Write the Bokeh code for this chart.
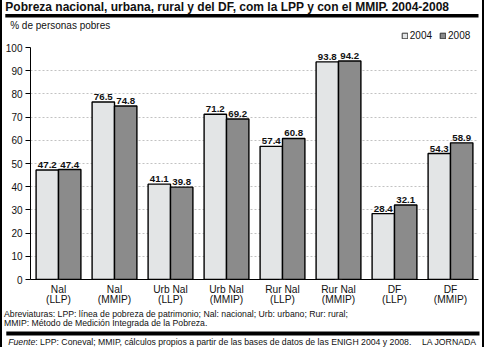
from bokeh.plotting import figure
from bokeh.layouts import column
from bokeh.models import (ColumnDataSource, Range1d, FactorRange, Legend, LegendItem, FixedTicker)
from bokeh.transform import dodge
from bokeh.core.properties import value
from bokeh.embed import file_html
from bokeh.resources import INLINE

# ---- data ----
categories = ["Nal (LLP)", "Nal (MMIP)", "Urb Nal (LLP)", "Urb Nal (MMIP)",
              "Rur Nal (LLP)", "Rur Nal (MMIP)", "DF (LLP)", "DF (MMIP)"]
label_line1 = ["Nal", "Nal", "Urb Nal", "Urb Nal", "Rur Nal", "Rur Nal", "DF", "DF"]
label_line2 = ["(LLP)", "(MMIP)", "(LLP)", "(MMIP)", "(LLP)", "(MMIP)", "(LLP)", "(MMIP)"]
v2004 = [47.2, 76.5, 41.1, 71.2, 57.4, 93.8, 28.4, 54.3]
v2008 = [47.4, 74.8, 39.8, 69.2, 60.8, 94.2, 32.1, 58.9]
series_names = ["2004", "2008"]
y_ticks = [0, 10, 20, 30, 40, 50, 60, 70, 80, 90, 100]

title_text = "Pobreza nacional, urbana, rural y del DF, com la LPP y con el MMIP. 2004-2008"
subtitle_text = "% de personas pobres"
note_lines = ["Abreviaturas: LPP: línea de pobreza de patrimonio; Nal: nacional; Urb: urbano; Rur: rural;",
              "MMIP: Método de Medición Integrada de la Pobreza."]
source_label = "Fuente"
source_text = ": LPP: Coneval; MMIP, cálculos propios a partir de las bases de datos de las ENIGH 2004 y 2008."
credit_text = "LA JORNADA"

FONT = "Liberation Sans"
INK = "#111111"
C_LIGHT = "#e3e5e6"
C_DARK = "#8b8b8b"

BRD = 2                  # css side borders
W = 484 - 2 * BRD        # inner width of every figure
FL = 27 - BRD            # chart frame left border (frame at x = 27)
FR = W - (478 - BRD)     # chart frame right border (frame ends at x = 478)
H_HEAD, H_MAIN, H_XLAB, H_FOOT = 41, 243, 22, 41
NAN = float("nan")


def strip(h, y_top, x_range=None, left=0, right=0):
    f = figure(width=W, height=h,
               x_range=x_range if x_range is not None else Range1d(BRD, BRD + W),
               y_range=Range1d(y_top + h, y_top),
               output_backend="svg", toolbar_location=None,
               x_axis_location=None, y_axis_location=None,
               min_border_left=left, min_border_right=right, min_border_top=0, min_border_bottom=0)
    f.grid.visible = False
    f.outline_line_color = None
    f.background_fill_color = "white"
    f.border_fill_color = "white"
    return f


def txt(f, x, y, text, size, style="normal", align="left"):
    # y is the wanted visual baseline; the renderer sits ~0.28em low, so lift it
    f.text(x=[x], y=[y - 0.28 * size], text=[text], text_font=value(FONT),
           text_font_size=f"{size}px", text_font_style=style, text_align=align,
           text_baseline="alphabetic", text_color=INK)


# ---- header: title, rule, subtitle, legend ----
head = strip(H_HEAD, 0)
txt(head, 4.8, 9.8, title_text, 12, "bold")
head.quad(left=[4.8], right=[478], top=[13.4], bottom=[16.9], fill_color="black", line_color=None)
txt(head, 9.7, 27.8, subtitle_text, 10)
k1 = head.quad(left=[NAN], right=[NAN], top=[NAN], bottom=[NAN], fill_color=C_LIGHT,
               line_color="#333333", line_width=1)
k2 = head.quad(left=[NAN], right=[NAN], top=[NAN], bottom=[NAN], fill_color=C_DARK,
               line_color="#333333", line_width=1)
legend = Legend(items=[LegendItem(label=series_names[0], renderers=[k1]),
                       LegendItem(label=series_names[1], renderers=[k2])],
                orientation="horizontal", location=(400.8 - BRD, 0),
                glyph_width=7, glyph_height=7, label_standoff=2, spacing=7,
                padding=0, margin=0, label_height=10,
                border_line_color=None, background_fill_alpha=0,
                label_text_font=FONT, label_text_font_size="10px", label_text_color=INK)
head.add_layout(legend, "center")

# ---- main chart ----
src = ColumnDataSource(dict(
    cat=categories, v2004=v2004, v2008=v2008,
    t2004=[f"{v:.1f}" for v in v2004], t2008=[f"{v:.1f}" for v in v2008],
))

p = figure(width=W, height=H_MAIN, x_range=FactorRange(*categories, range_padding=0),
           y_range=Range1d(0, 100), output_backend="svg", toolbar_location=None,
           min_border_left=FL, min_border_top=6, min_border_bottom=5, min_border_right=FR)
p.background_fill_color = "white"
p.border_fill_color = "white"
p.outline_line_color = None

p.vbar(x=dodge("cat", -0.2, range=p.x_range), top="v2004", width=0.4, source=src,
       fill_color=C_LIGHT, line_color="black", line_width=1.4)
p.vbar(x=dodge("cat", 0.2, range=p.x_range), top="v2008", width=0.4, source=src,
       fill_color=C_DARK, line_color="black", line_width=1.4)

for field, tfield, off in (("v2004", "t2004", -0.2), ("v2008", "t2008", 0.2)):
    p.text(x=dodge("cat", off, range=p.x_range), y=field, text=tfield, source=src,
           text_font=value(FONT), text_font_size="9.7px", text_font_style="bold",
           text_align="center", text_baseline="alphabetic", y_offset=-5, text_color=INK)

p.yaxis.ticker = FixedTicker(ticks=y_ticks)
p.yaxis.axis_line_color = "black"
p.yaxis.major_tick_out = 5
p.yaxis.major_tick_in = 0
p.yaxis.minor_tick_line_color = None
p.yaxis.major_label_standoff = 3
p.yaxis.major_label_text_font = FONT
p.yaxis.major_label_text_font_size = "10px"
p.yaxis.major_label_text_color = INK

p.xaxis.axis_line_color = "black"
p.xaxis.major_tick_line_color = None
p.xaxis.major_tick_out = 0
p.xaxis.major_tick_in = 0
p.xaxis.major_label_standoff = 0
p.xaxis.major_label_overrides = {c: "" for c in categories}
p.xaxis.major_label_text_font_size = "1px"

p.xgrid.grid_line_color = None
p.ygrid.grid_line_color = "#c2c2c2"
p.ygrid.grid_line_dash = "2 2"
p.ygrid.grid_line_width = 1

# ---- category labels (two lines, placed through the shared factor range) ----
Y_X = H_HEAD + H_MAIN
xl = strip(H_XLAB, Y_X, x_range=p.x_range, left=FL, right=FR)
lab_src = ColumnDataSource(dict(cat=categories, l1=label_line1, l2=label_line2))
for fld, yb in (("l1", 291.5), ("l2", 301.6)):
    xl.text(x="cat", y=yb - 0.28 * 10.2, text=fld, source=lab_src, text_font=value(FONT),
            text_font_size="10.2px", text_align="center", text_baseline="alphabetic", text_color=INK)

# ---- footer ----
TOP_F = Y_X + H_XLAB
foot = strip(H_FOOT, TOP_F)
txt(foot, 3.5, 315.5, note_lines[0], 8.7)
txt(foot, 3.5, 325.2, note_lines[1], 8.7)
foot.quad(left=[5.8], right=[479], top=[331], bottom=[335], fill_color="black", line_color=None)
txt(foot, 7.7, 344.2, source_label, 8.7, "italic")
txt(foot, 7.7 + 3.113 * 8.7, 344.2, source_text, 8.7)
txt(foot, 476, 344.2, credit_text, 8.7, "normal", "right")

layout = column(column(head), p, xl, column(foot), spacing=0,
                styles={"border-left": f"{BRD}px solid black", "border-right": f"{BRD}px solid black"})

open("out.html", "w").write(file_html(layout, INLINE))
